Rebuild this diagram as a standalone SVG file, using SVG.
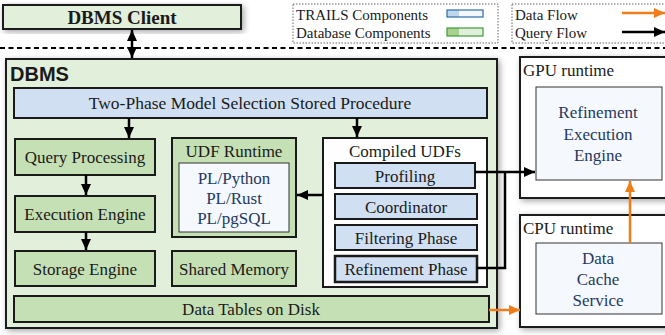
<svg xmlns="http://www.w3.org/2000/svg" width="665" height="335" viewBox="0 0 665 335">
<style>
text{font-family:"Liberation Serif","Times New Roman",serif;font-size:17px;fill:#1a1a1a}
.c{text-anchor:middle}
.blu{fill:#1f3a5f}
.lg{font-size:15px}
.g1{fill:#e2efda;stroke:#1a1a1a;stroke-width:2}
.g2{fill:#c5e0b4;stroke:#1a1a1a;stroke-width:2}
.b1{fill:#d0e0f2;stroke:#1a1a1a;stroke-width:2}
.w{fill:#ffffff;stroke:#1a1a1a;stroke-width:2}
.in{fill:#f5f8fc;stroke:#333;stroke-width:1}
.q{fill:none;stroke:#000;stroke-width:2.5}
.d{fill:none;stroke:#f07c1a;stroke-width:2.5}
</style>
<defs>
<filter id="sh" x="-10%" y="-10%" width="130%" height="130%">
<feDropShadow dx="2" dy="2" stdDeviation="3" flood-color="#000" flood-opacity="0.35"/>
</filter>
<marker id="ak" markerUnits="userSpaceOnUse" markerWidth="12" markerHeight="12" viewBox="0 0 12 12" refX="11" refY="6" orient="auto-start-reverse"><path d="M0,1 L11,6 L0,11 Z" fill="#000"/></marker>
<marker id="ao" markerUnits="userSpaceOnUse" markerWidth="12" markerHeight="12" viewBox="0 0 12 12" refX="11" refY="6" orient="auto"><path d="M0,1 L11,6 L0,11 Z" fill="#f07c1a"/></marker>
</defs>

<g id="dbms-client">
<rect x="3" y="5" width="238" height="24" class="g1" filter="url(#sh)"/>
<text x="122" y="24" class="c" style="font-weight:bold;font-size:19px">DBMS Client</text>
</g>

<g id="legend-components">
<rect x="293" y="4" width="205" height="39" fill="#fff" stroke="#666" stroke-width="1" stroke-dasharray="1.5 1.5"/>
<text x="296" y="20" class="lg">TRAILS Components</text>
<text x="296" y="38" class="lg">Database Components</text>
<rect x="447" y="10" width="12" height="7" fill="#bdd7ee"/>
<rect x="459" y="10" width="24" height="7" fill="#f4f8fc"/>
<rect x="447" y="10" width="36" height="7" fill="none" stroke="#2e6da4" stroke-width="1.2"/>
<rect x="447" y="28" width="12" height="8" fill="#a9d18e"/>
<rect x="459" y="28" width="24" height="8" fill="#e2efda"/>
<rect x="447" y="28" width="36" height="8" fill="none" stroke="#3f9a3f" stroke-width="1.2"/>
</g>

<g id="legend-flows">
<rect x="512" y="4" width="160" height="39" fill="#fff" stroke="#666" stroke-width="1" stroke-dasharray="1.5 1.5"/>
<text x="515" y="20" class="lg">Data Flow</text>
<text x="515" y="38" class="lg">Query Flow</text>
<line x1="622" y1="13" x2="665" y2="13" class="d" marker-end="url(#ao)"/>
<line x1="622" y1="32" x2="665" y2="32" class="q" marker-end="url(#ak)"/>
</g>

<line x1="0" y1="48" x2="665" y2="48" stroke="#000" stroke-width="2" stroke-dasharray="5 3.5"/>

<g id="dbms">
<rect x="6" y="59" width="491" height="269" class="g1" filter="url(#sh)"/>
<text x="10" y="81" style="font-family:'Liberation Sans',Arial,sans-serif;font-weight:bold;font-size:20px">DBMS</text>
</g>

<g id="two-phase">
<rect x="14" y="88" width="473" height="30" class="b1"/>
<text x="250" y="109" class="c" style="font-size:17.5px">Two-Phase Model Selection Stored Procedure</text>
</g>

<g id="query-processing">
<rect x="15" y="139" width="140" height="36" class="g2"/>
<text x="85" y="163" class="c">Query Processing</text>
</g>
<g id="execution-engine">
<rect x="15" y="196" width="140" height="36" class="g2"/>
<text x="85" y="220" class="c">Execution Engine</text>
</g>
<g id="storage-engine">
<rect x="15" y="251" width="140" height="35" class="g2"/>
<text x="85" y="275" class="c">Storage Engine</text>
</g>

<g id="udf-runtime">
<rect x="172" y="138" width="124" height="99" class="g2"/>
<text x="234" y="157" class="c">UDF Runtime</text>
<rect x="179" y="163" width="110" height="69" class="in"/>
<text x="234" y="184" class="c blu">PL/Python</text>
<text x="234" y="204" class="c blu">PL/Rust</text>
<text x="234" y="224" class="c blu">PL/pgSQL</text>
</g>

<g id="shared-memory">
<rect x="172" y="251" width="124" height="35" class="g2"/>
<text x="234" y="275" class="c">Shared Memory</text>
</g>

<g id="data-tables">
<rect x="14" y="296" width="475" height="26" class="g2"/>
<text x="251" y="315" class="c">Data Tables on Disk</text>
</g>

<g id="compiled-udfs">
<rect x="323" y="138" width="164" height="149" class="w"/>
<text x="405" y="157" class="c">Compiled UDFs</text>
</g>
<g id="profiling">
<rect x="335" y="163" width="140" height="25" class="b1"/>
<text x="405" y="182" class="c">Profiling</text>
</g>
<g id="coordinator">
<rect x="335" y="194" width="142" height="25" class="b1"/>
<text x="406" y="213" class="c">Coordinator</text>
</g>
<g id="filtering-phase">
<rect x="335" y="225" width="142" height="25" class="b1"/>
<text x="406" y="244" class="c">Filtering Phase</text>
</g>
<g id="refinement-phase">
<rect x="335" y="256" width="142" height="26" class="b1" style="stroke-width:2.5"/>
<text x="406" y="275" class="c">Refinement Phase</text>
</g>

<g id="gpu-runtime">
<rect x="520" y="57" width="155" height="141" class="w" filter="url(#sh)"/>
<text x="523" y="76">GPU runtime</text>
<rect x="536" y="87" width="126" height="93" class="in"/>
<text x="598" y="118" class="c blu">Refinement</text>
<text x="598" y="140" class="c blu">Execution</text>
<text x="598" y="161" class="c blu">Engine</text>
</g>

<g id="cpu-runtime">
<rect x="520" y="215" width="155" height="112" class="w" filter="url(#sh)"/>
<text x="523" y="234">CPU runtime</text>
<rect x="536" y="243" width="126" height="71" class="in"/>
<text x="598" y="264" class="c blu">Data</text>
<text x="598" y="285" class="c blu">Cache</text>
<text x="598" y="306" class="c blu">Service</text>
</g>

<g id="connectors">
<line x1="132" y1="30" x2="132" y2="58" class="q" marker-start="url(#ak)" marker-end="url(#ak)"/>
<line x1="129" y1="118" x2="129" y2="138" class="q" marker-end="url(#ak)"/>
<line x1="357" y1="118" x2="357" y2="137" class="q" marker-end="url(#ak)"/>
<line x1="86" y1="175" x2="86" y2="195" class="q" marker-end="url(#ak)"/>
<line x1="86" y1="232" x2="86" y2="250" class="q" marker-end="url(#ak)"/>
<line x1="323" y1="195" x2="297" y2="195" class="q" marker-end="url(#ak)"/>
<line x1="475" y1="172" x2="535" y2="172" class="q" marker-end="url(#ak)"/>
<polyline points="477,268 505,268 505,172" class="q"/>
<line x1="489" y1="310" x2="520" y2="310" class="d" marker-end="url(#ao)"/>
<line x1="630" y1="243" x2="630" y2="181" class="d" marker-end="url(#ao)"/>
</g>
</svg>
